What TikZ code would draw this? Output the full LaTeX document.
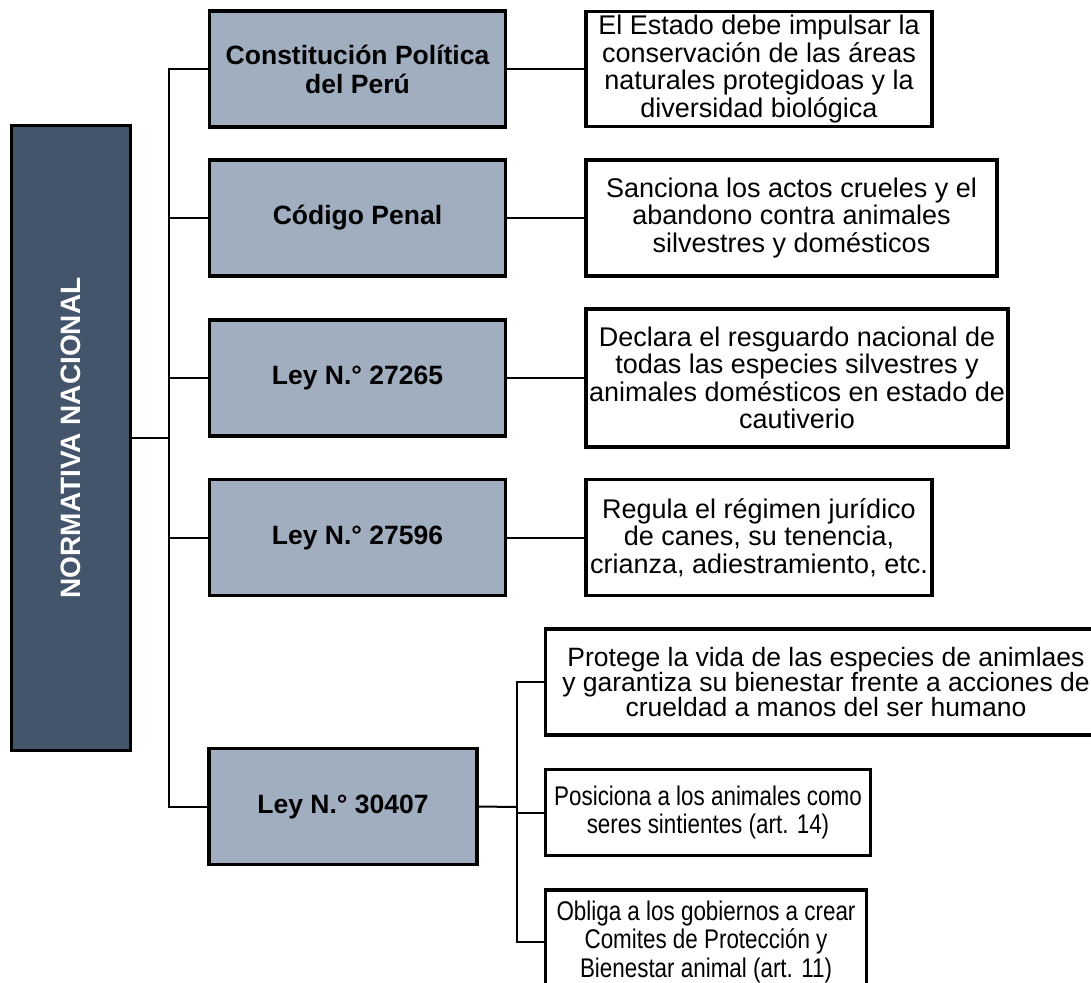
\documentclass[tikz,border=0pt]{standalone}
\usepackage{fontspec}
\setmainfont{Liberation Sans}
\newfontfamily\narrowfont[FakeStretch=0.83]{Liberation Sans}
\usepackage{xcolor}
\usepackage{tikz}
\usetikzlibrary{positioning, calc}
\definecolor{rootfill}{RGB}{68,84,106}
\definecolor{lawfill}{RGB}{160,174,192}
\tikzset{
    rootblock/.style={
        rectangle,
        draw=black,
        line width=3.5pt,
        fill=rootfill,
        text=white,
        text centered,
        font=\fontsize{28}{30}\selectfont\bfseries
    },
    lawblock/.style={
        rectangle,
        draw=black,
        line width=3.5pt,
        fill=lawfill,
        align=center,
        minimum width=296pt,
        minimum height=116pt,
        font=\fontsize{26.5}{29}\selectfont\bfseries
    },
    noteblock/.style={
        rectangle,
        draw=black,
        line width=3.5pt,
        fill=white,
        align=center,
        inner sep=1pt,
        font=\fontsize{27}{27.5}\selectfont
    },
    subnoteblock/.style={
        noteblock,
        font=\narrowfont\fontsize{27}{28.5}\selectfont
    },
    connection/.style={
        draw=black,
        line width=2pt
    }
}

\begin{document}
\begin{tikzpicture}[x=1pt, y=1pt]

\clip (0,0) rectangle (1091,-982);

% Root
\node[rootblock, rotate=90, minimum width=625pt, minimum height=119pt] (norm) at (71,-438) {NORMATIVA NACIONAL};

% Laws
\node[lawblock] (const) at (357.5,-69) {Constituci\'on Pol\'itica\\del Per\'u};
\node[lawblock] (penal) at (357.5,-218) {C\'odigo Penal};
\node[lawblock] (ley1) at (357.5,-378) {Ley N.° 27265};
\node[lawblock] (ley2) at (357.5,-537.5) {Ley N.° 27596};
\node[lawblock, minimum width=268pt] (ley3) at (343,-806.5) {Ley N.° 30407};

% Descriptions
\node[noteblock, minimum width=346pt, minimum height=115pt, right=77pt of const] (dconst) {El Estado debe impulsar la\\conservaci\'on de las \'areas\\naturales protegidoas y la\\diversidad biol\'ogica};
\node[noteblock, minimum width=411pt, minimum height=116pt, right=77pt of penal] (dpenal) {Sanciona los actos crueles y el\\abandono contra animales\\silvestres y dom\'esticos};
\node[noteblock, minimum width=422pt, minimum height=138pt, right=77pt of ley1] (dley1) {Declara el resguardo nacional de\\todas las especies silvestres y\\animales dom\'esticos en estado de\\cautiverio};
\node[noteblock, minimum width=346pt, minimum height=116pt, right=77pt of ley2] (dley2) {Regula el r\'egimen jur\'idico\\de canes, su tenencia,\\crianza, adiestramiento, etc.};

\node[subnoteblock, minimum width=325pt, minimum height=86pt, right=65pt of ley3, yshift=-6pt] (sient) {Posiciona a los animales como\\seres sintientes (art. 14)};
\node[noteblock, font=\fontsize{26.5}{25}\selectfont, minimum width=561pt, minimum height=106pt, above=31pt of sient.north west, anchor=south west] (vida) {Protege la vida de las especies de animlaes\\y garantiza su bienestar frente a acciones de\\crueldad a manos del ser humano};
\node[subnoteblock, minimum width=321pt, minimum height=103pt, below=31pt of sient.south west, anchor=north west] (comite) {Obliga a los gobiernos a crear\\Comites de Protecci\'on y\\Bienestar animal (art. 11)};

% Spine
\coordinate (spine) at (169,-438);
\draw[connection] (norm.south) -- (spine);
\draw[connection] (const.west) -| (spine);
\draw[connection] (ley3.west) -| (spine);
\draw[connection] (penal.west) -- (penal.west -| spine);
\draw[connection] (ley1.west) -- (ley1.west -| spine);
\draw[connection] (ley2.west) -- (ley2.west -| spine);

% Law to description
\draw[connection] (const) -- (dconst);
\draw[connection] (penal) -- (dpenal);
\draw[connection] (ley1) -- (dley1);
\draw[connection] (ley2) -- (dley2);

% Ley 30407 branches
\coordinate (bus) at (517,-807);
\draw[connection] (ley3.east) -- (bus);
\draw[connection] (vida.west) -| (bus);
\draw[connection] (comite.west) -| (bus);
\draw[connection] (sient.west) -- (sient.west -| bus);

\end{tikzpicture}
\end{document}
